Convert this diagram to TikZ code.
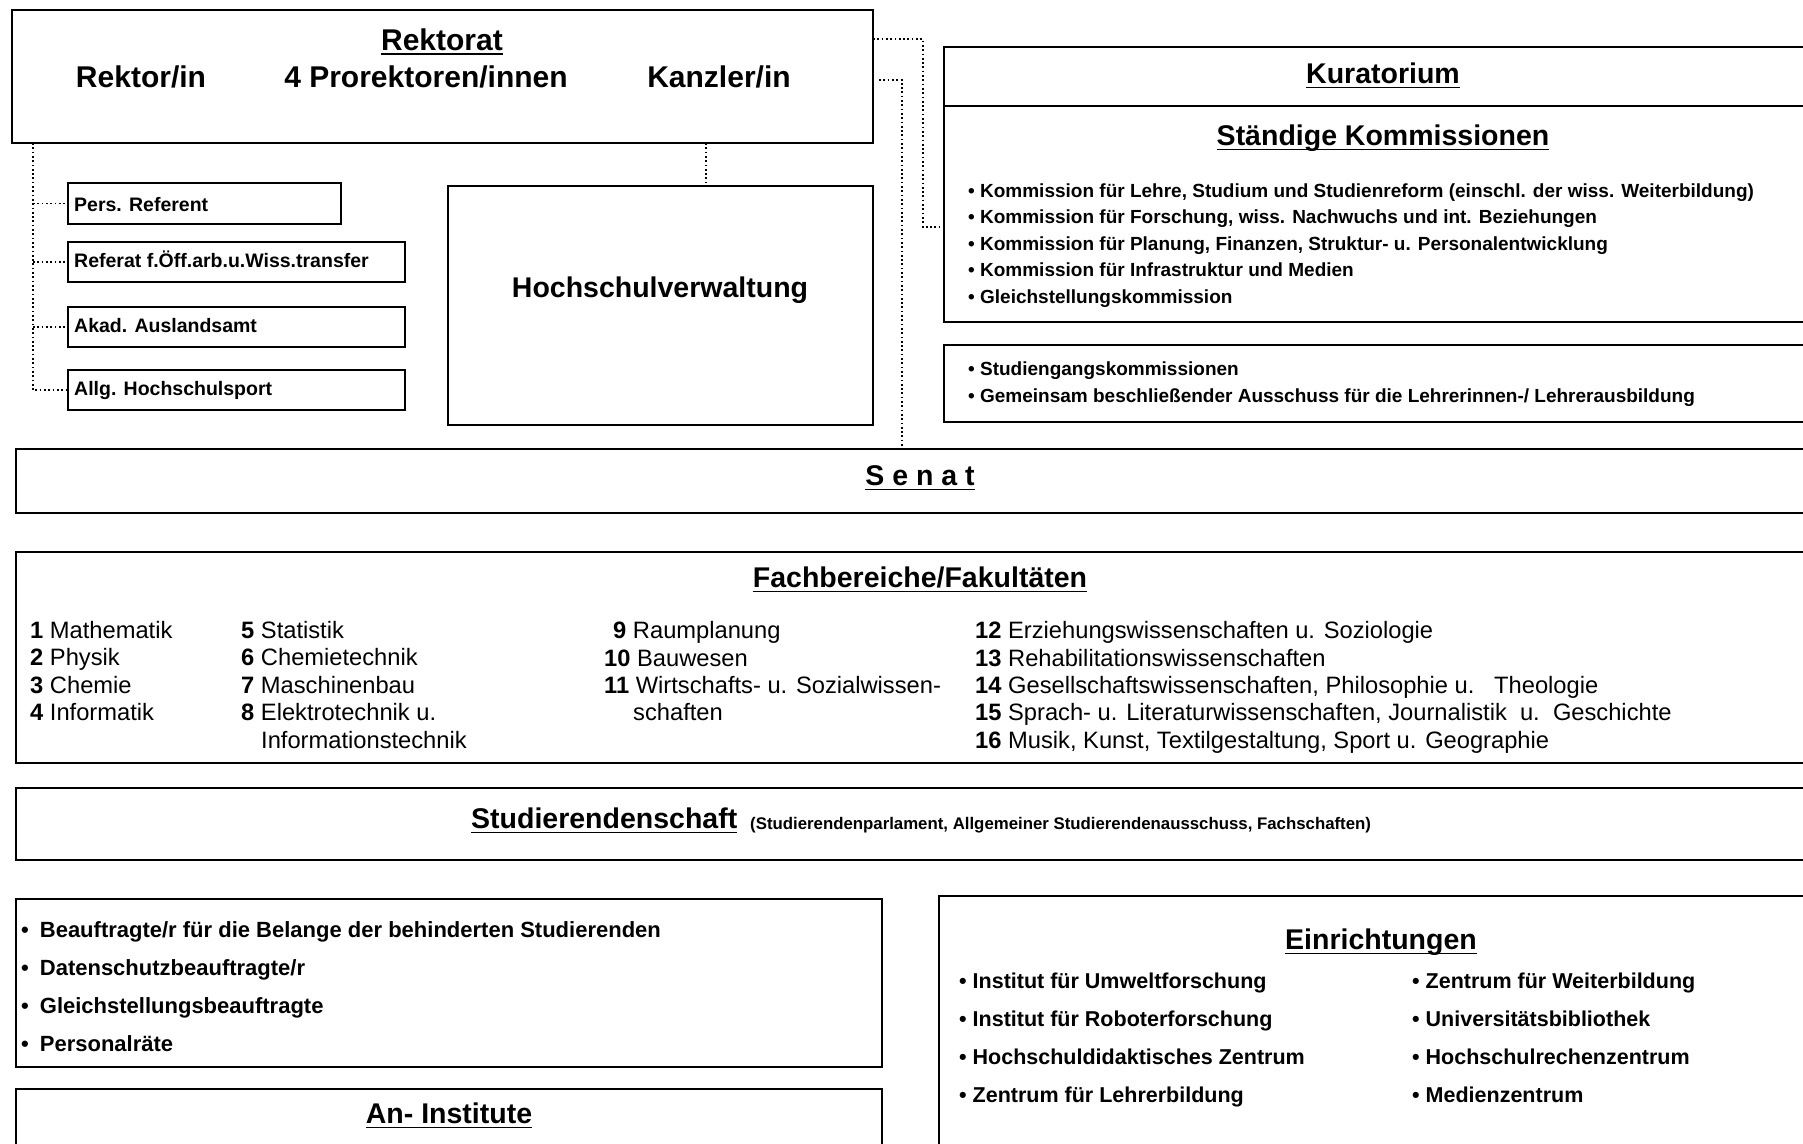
\documentclass[tikz,border=0pt]{standalone}
\usepackage{fontspec}
\setmainfont{Liberation Sans}
\begin{document}
\begin{tikzpicture}[x=1pt,y=-1pt,
 box/.style={draw, line width=2pt, rectangle, inner sep=0pt, outer sep=0pt, anchor=north west},
 dotl/.style={line width=1.7pt, dash pattern=on 1.7pt off 2.6pt},
 ul/.style={line width=1.6pt},
 lt/.style={inner sep=0pt, anchor=base west},
 ct/.style={inner sep=0pt, anchor=base},
 fbig/.style={font=\bfseries\fontsize{30}{36}\selectfont},
 fttl/.style={font=\bfseries\fontsize{28.5}{34}\selectfont},
 fsmall/.style={font=\bfseries\fontsize{19.5}{23}\selectfont},
 fkom/.style={font=\bfseries\fontsize{19}{23}\selectfont},
 ffach/.style={font=\fontsize{23.7}{28}\selectfont},
 fbea/.style={font=\bfseries\fontsize{22}{26}\selectfont},
 fein/.style={font=\bfseries\fontsize{21.5}{26}\selectfont},
 fsub/.style={font=\bfseries\fontsize{16.8}{20}\selectfont},
]
\useasboundingbox (0,0) rectangle (1803,1143);
\clip (0,0) rectangle (1803,1143);
\fill[white] (0,0) rectangle (1803,1143);

% ---------- boxes ----------
\node[box, minimum width=861pt, minimum height=133pt] (rektorat) at (12,10) {};
\node[box, minimum width=273pt, minimum height=41pt] (pers) at (68,183) {};
\node[box, minimum width=337pt, minimum height=40pt] (referat) at (68,242) {};
\node[box, minimum width=337pt, minimum height=40pt] (akad) at (68,307) {};
\node[box, minimum width=337pt, minimum height=40pt] (allg) at (68,370) {};
\node[box, minimum width=425pt, minimum height=239pt] (hv) at (448,186) {};
\node[box, minimum width=880pt, minimum height=59pt] (kura) at (944,47) {};
\node[box, minimum width=880pt, minimum height=216pt] (staend) at (944,106) {};
\node[box, minimum width=880pt, minimum height=77pt] (stg) at (944,345) {};
\node[box, minimum width=1808pt, minimum height=64pt] (senat) at (16,449) {};
\node[box, minimum width=1808pt, minimum height=211pt] (fach) at (16,552) {};
\node[box, minimum width=1808pt, minimum height=72pt] (stud) at (16,788) {};
\node[box, minimum width=866pt, minimum height=168pt] (beauf) at (16,899) {};
\node[box, minimum width=866pt, minimum height=80pt] (an) at (16,1089) {};
\node[box, minimum width=885pt, minimum height=270pt] (einr) at (939,896) {};

% ---------- Rektorat ----------
\node[ct, fbig] (rt) at (442,50) {Rektorat};
\draw[ul] ([yshift=-4pt]rt.base west) -- ([yshift=-4pt]rt.base east);
\node[ct, fbig] (rektor) at (141,87) {Rektor/in};
\node[ct, fbig] (prorek) at (426,87) {4 Prorektoren/innen};
\node[ct, fbig] (kanzler) at (719,87) {Kanzler/in};

\node[lt, fsmall] (perst) at (74,211) {Pers. Referent};
\node[lt, fsmall] (referatt) at (74,267) {Referat f.Öff.arb.u.Wiss.transfer};
\node[lt, fsmall] (akadt) at (74,332) {Akad. Auslandsamt};
\node[lt, fsmall] (allgt) at (74,395) {Allg. Hochschulsport};

\node[ct, fttl] (hvt) at (660,297) {Hochschulverwaltung};

% ---------- Kuratorium / Kommissionen ----------
\node[ct, fttl] (kurat) at (1383,83) {Kuratorium};
\draw[ul] ([yshift=-4.5pt]kurat.base west) -- ([yshift=-4.5pt]kurat.base east);
\node[ct, fttl] (staendt) at (1383,145) {Ständige Kommissionen};
\draw[ul] ([yshift=-4.5pt]staendt.base west) -- ([yshift=-4.5pt]staendt.base east);
\foreach \t [count=\i] in {{Kommission für Lehre, Studium und Studienreform (einschl. der wiss. Weiterbildung)},
  {Kommission für Forschung, wiss. Nachwuchs und int. Beziehungen},
  {Kommission für Planung, Finanzen, Struktur- u. Personalentwicklung},
  {Kommission für Infrastruktur und Medien},
  {Gleichstellungskommission}}
  \node[lt, fkom] (kom\i) at (968,{197+26.5*(\i-1)}) {• \t};
\node[lt, fkom] (stg1) at (968,375) {• Studiengangskommissionen};
\node[lt, fkom] (stg2) at (968,402) {• Gemeinsam beschließender Ausschuss für die Lehrerinnen-/ Lehrerausbildung};

% ---------- Senat ----------
\node[ct, fttl] (senatt) at (920,485) {S e n a t};
\draw[ul] ([yshift=-4.5pt]senatt.base west) -- ([yshift=-4.5pt]senatt.base east);

% ---------- Fachbereiche ----------
\node[ct, fttl] (facht) at (920,587) {Fachbereiche/Fakultäten};
\draw[ul] ([yshift=-4.5pt]facht.base west) -- ([yshift=-4.5pt]facht.base east);
\foreach \n/\t [count=\i] in {1/Mathematik, 2/Physik, 3/Chemie, 4/Informatik}
  \node[lt, ffach] (fa\i) at (30,{638+27.5*(\i-1)}) {\textbf{\n} \t};
\foreach \n/\t [count=\i] in {5/Statistik, 6/Chemietechnik, 7/Maschinenbau, 8/Elektrotechnik u.}
  \node[lt, ffach] (fb\i) at (241,{638+27.5*(\i-1)}) {\textbf{\n} \t};
\node[lt, ffach] (fb5) at (261,748) {Informationstechnik};
\node[lt, ffach] (fc1) at (613,638) {\textbf{9} Raumplanung};
\node[lt, ffach] (fc2) at (604,666) {\textbf{10} Bauwesen};
\node[lt, ffach] (fc3) at (604,693) {\textbf{11} Wirtschafts- u. Sozialwissen-};
\node[lt, ffach] (fc4) at (633,720) {schaften};
\node[lt, ffach] (fd1) at (975,638) {\textbf{12} Erziehungswissenschaften u. Soziologie};
\node[lt, ffach] (fd2) at (975,666) {\textbf{13} Rehabilitationswissenschaften};
\node[lt, ffach] (fd3) at (975,693) {\textbf{14} Gesellschaftswissenschaften, Philosophie u.\ \ \ Theologie};
\node[lt, ffach] (fd4) at (975,720) {\textbf{15} Sprach- u. Literaturwissenschaften, Journalistik\ \ u.\ \ Geschichte};
\node[lt, ffach] (fd5) at (975,748) {\textbf{16} Musik, Kunst, Textilgestaltung, Sport u. Geographie};

% ---------- Studierendenschaft ----------
\node[lt, fttl] (studt) at (471,828) {Studierendenschaft};
\draw[ul] ([yshift=-4.5pt]studt.base west) -- ([yshift=-4.5pt]studt.base east);
\node[lt, fsub] (studsub) at (750,829) {(Studierendenparlament, Allgemeiner Studierendenausschuss, Fachschaften)};

% ---------- Beauftragte ----------
\foreach \t [count=\i] in {{Beauftragte/r für die Belange der behinderten Studierenden},
  {Datenschutzbeauftragte/r}, {Gleichstellungsbeauftragte}, {Personalräte}}
  \node[lt, fbea] (bea\i) at (21,{937+38*(\i-1)}) {•\hspace{11pt}\t};

% ---------- An-Institute ----------
\node[ct, fttl] (ant) at (449,1123) {An- Institute};
\draw[ul] ([yshift=-4.5pt]ant.base west) -- ([yshift=-4.5pt]ant.base east);

% ---------- Einrichtungen ----------
\node[ct, fttl] (einrt) at (1381,949) {Einrichtungen};
\draw[ul] ([yshift=-4.5pt]einrt.base west) -- ([yshift=-4.5pt]einrt.base east);
\foreach \t [count=\i] in {{Institut für Umweltforschung}, {Institut für Roboterforschung},
  {Hochschuldidaktisches Zentrum}, {Zentrum für Lehrerbildung}}
  \node[lt, fein] (ea\i) at (959,{988+38.3*(\i-1)}) {• \t};
\foreach \t [count=\i] in {{Zentrum für Weiterbildung}, {Universitätsbibliothek},
  {Hochschulrechenzentrum}, {Medienzentrum}}
  \node[lt, fein] (eb\i) at (1412,{988+38.3*(\i-1)}) {• \t};

% ---------- dotted connectors ----------
\coordinate (sp) at (33,0);
\draw[dotl] (rektorat.south -| sp) -- (allg.west -| sp) -- (allg.west);
\foreach \b in {pers,referat,akad}
  \draw[dotl] (\b.west -| sp) -- (\b.west);
\coordinate (kx) at (706,0);
\draw[dotl] (rektorat.south -| kx) -- (hv.north -| kx);
\coordinate (c1) at (923,39);
\coordinate (c2) at (923,227);
\draw[dotl] (rektorat.east |- c1) -- (c1) -- (c2) -- (staend.west |- c2);
\coordinate (c3) at (902,80);
\draw[dotl] ([xshift=6pt]rektorat.east |- c3) -- (c3) -- (senat.north -| c3);
\end{tikzpicture}
\end{document}
